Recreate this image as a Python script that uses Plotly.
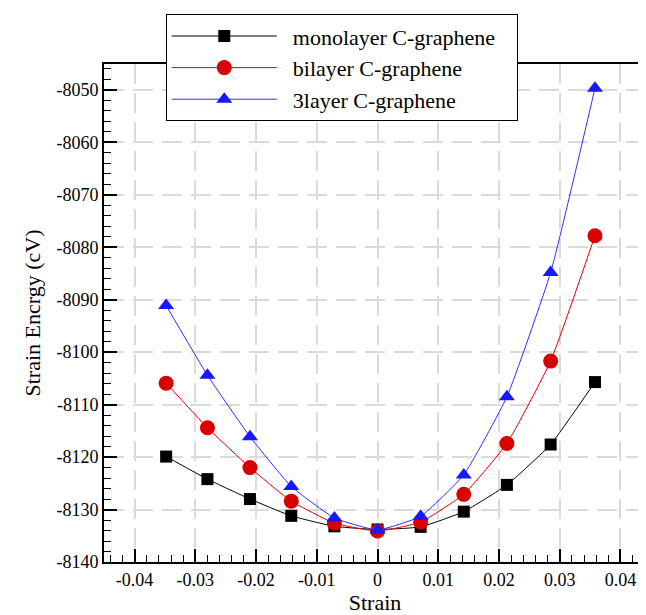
import plotly.graph_objects as go

strain = [-0.0348, -0.028, -0.021, -0.0142, -0.0071, 0.0, 0.0071, 0.0142, 0.0213, 0.0285, 0.0358]
mono = [-8119.9, -8124.2, -8128.0, -8131.2, -8133.2, -8133.8, -8133.3, -8130.4, -8125.3, -8117.6, -8105.7]
bi = [-8105.9, -8114.4, -8122.0, -8128.4, -8132.6, -8134.1, -8132.4, -8127.1, -8117.4, -8101.7, -8077.8]
tri = [-8091.1, -8104.4, -8116.1, -8125.6, -8131.6, -8133.9, -8131.3, -8123.4, -8108.5, -8084.8, -8049.7]

names = ["monolayer C-graphene", "bilayer C-graphene", "3layer C-graphene"]

xtickvals = [-0.04, -0.03, -0.02, -0.01, 0, 0.01, 0.02, 0.03, 0.04]
xticktext = ["-0.04", "-0.03", "-0.02", "-0.01", "0", "0.01", "0.02", "0.03", "0.04"]
ytickvals = [-8140, -8130, -8120, -8110, -8100, -8090, -8080, -8070, -8060, -8050]
yticktext = ["-8140", "-8130", "-8120", "-8110", "-8100", "-8090", "-8080", "-8070", "-8060", "-8050"]

FONT = "'Times New Roman', 'Liberation Serif', 'DejaVu Serif', serif"
PAD_L = "\u00a0\u00a0"
PAD_R = "\u00a0\u00a0\u00a0"

fig = go.Figure()
fig.add_trace(go.Scatter(x=strain, y=mono, name=PAD_L + names[0] + PAD_R, mode="lines+markers",
                         line=dict(color="black", width=1, shape="spline", smoothing=0.4),
                         marker=dict(symbol="square", size=12, color="black")))
fig.add_trace(go.Scatter(x=strain, y=bi, name=PAD_L + names[1] + PAD_R, mode="lines+markers",
                         line=dict(color="#e00000", width=1, shape="spline", smoothing=0.4),
                         marker=dict(symbol="circle", size=15, color="#d80000")))
fig.add_trace(go.Scatter(x=strain, y=tri, name=PAD_L + names[2] + PAD_R, mode="lines+markers",
                         line=dict(color="#3030ff", width=1, shape="spline", smoothing=0.4),
                         marker=dict(symbol="triangle-up", size=14, color="#1818ff")))

axis_common = dict(
    showline=True, linecolor="black", linewidth=2, mirror=True,
    ticks="inside", ticklen=13, tickwidth=1.5, tickcolor="black",
    showgrid=True, gridcolor="#dadada", gridwidth=1.5, griddash="20px,9px",
    zeroline=False,
    tickfont=dict(family=FONT, size=18, color="black"),
)

fig.update_xaxes(**axis_common, range=[-0.04503, 0.0442], tickvals=xtickvals, ticktext=xticktext,
                 minor=dict(ticks="inside", ticklen=7, dtick=0.002, tick0=0, tickcolor="black", tickwidth=1, showgrid=False),
                 title=dict(text="Strain", font=dict(family=FONT, size=22, color="black"), standoff=4))
fig.update_yaxes(**axis_common, range=[-8140, -8045.06], tickvals=ytickvals, ticktext=yticktext,
                 minor=dict(ticks="inside", ticklen=7, dtick=2, tick0=-8140, tickcolor="black", tickwidth=1, showgrid=False),
                 title=dict(text="Strain Encrgy (cV)", font=dict(family=FONT, size=22, color="black"), standoff=10))

fig.update_layout(
    width=646, height=615,
    margin=dict(l=96, r=6, t=54, b=61),
    plot_bgcolor="white", paper_bgcolor="white",
    font=dict(family=FONT, color="black"),
    legend=dict(x=0.114, y=1.1, xanchor="left", yanchor="top",
                bgcolor="white", bordercolor="black", borderwidth=1,
                font=dict(family=FONT, size=22, color="black"),
                itemwidth=105, tracegroupgap=0),
    showlegend=True,
)

fig.write_html("out.html")
